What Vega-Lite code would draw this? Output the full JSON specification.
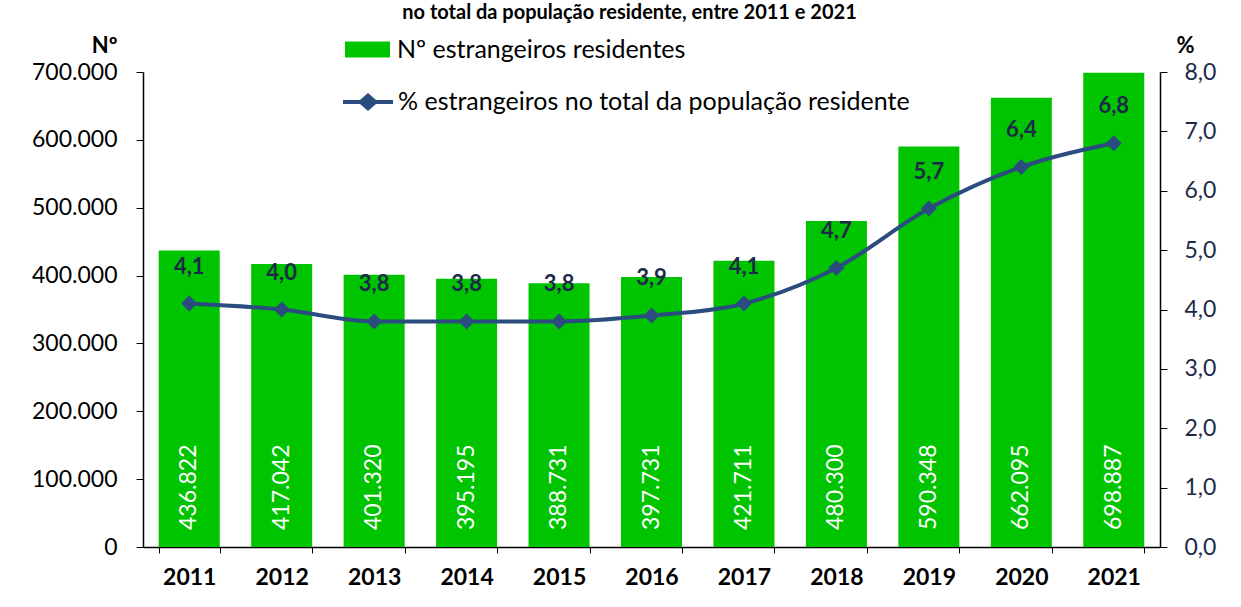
{
  "$schema": "https://vega.github.io/schema/vega-lite/v6.json",
  "width": 1017,
  "height": 475,
  "autosize": "none",
  "padding": {"left": 143, "top": 72, "right": 81, "bottom": 60},
  "background": "white",
  "title": {
    "text": "no total da população residente, entre 2011 e 2021",
    "font": "Lato",
    "fontSize": 20,
    "fontWeight": "bold",
    "color": "black",
    "anchor": "middle",
    "frame": "group",
    "dx": -22,
    "offset": 4
  },
  "config": {
    "font": "Lato",
    "view": {"stroke": null},
    "locale": {"number": {"decimal": ",", "thousands": ".", "grouping": [3], "currency": ["", " €"]}}
  },
  "data": {
    "values": [
      {"ano": "2011", "n": 436822, "pct": 4.1},
      {"ano": "2012", "n": 417042, "pct": 4.0},
      {"ano": "2013", "n": 401320, "pct": 3.8},
      {"ano": "2014", "n": 395195, "pct": 3.8},
      {"ano": "2015", "n": 388731, "pct": 3.8},
      {"ano": "2016", "n": 397731, "pct": 3.9},
      {"ano": "2017", "n": 421711, "pct": 4.1},
      {"ano": "2018", "n": 480300, "pct": 4.7},
      {"ano": "2019", "n": 590348, "pct": 5.7},
      {"ano": "2020", "n": 662095, "pct": 6.4},
      {"ano": "2021", "n": 698887, "pct": 6.8}
    ]
  },
  "encoding": {
    "x": {
      "field": "ano",
      "type": "ordinal",
      "scale": {"paddingInner": 0.34, "paddingOuter": 0.17},
      "axis": {
        "title": null,
        "labelAngle": 0,
        "labelFont": "Lato",
        "labelFontSize": 23,
        "labelFontWeight": "bold",
        "labelColor": "black",
        "labelPadding": 13,
        "tickBand": "extent",
        "tickSize": 6,
        "tickColor": "black",
        "domainColor": "black",
        "domainWidth": 1.5
      }
    }
  },
  "layer": [
    {
      "layer": [
        {
          "mark": {"type": "bar", "fill": "#00c400"},
          "encoding": {
            "y": {
              "field": "n",
              "type": "quantitative",
              "scale": {"domain": [0, 700000], "nice": false},
              "axis": {
                "orient": "left",
                "title": "Nº",
                "titleAngle": 0,
                "titleAlign": "right",
                "titleBaseline": "middle",
                "titleX": -26,
                "titleY": -27,
                "titleFont": "Lato",
                "titleFontSize": 22,
                "titleFontWeight": "bold",
                "titleColor": "black",
                "values": [0, 100000, 200000, 300000, 400000, 500000, 600000, 700000],
                "format": ",d",
                "labelFont": "Lato",
                "labelFontSize": 23,
                "labelColor": "black",
                "labelPadding": 19,
                "tickSize": 7,
                "tickColor": "black",
                "domainColor": "black",
                "domainWidth": 1.5,
                "grid": false
              }
            },
            "fill": {
              "datum": "Nº estrangeiros residentes",
              "scale": {"range": ["#00c400"]},
              "legend": {
                "title": null,
                "orient": "none",
                "legendX": 202,
                "legendY": -45,
                "padding": 0,
                "labelLimit": 0,
                "symbolType": "M-1,-0.356 L1,-0.356 L1,0.356 L-1,0.356 Z",
                "symbolSize": 2025,
                "symbolStrokeWidth": 0,
                "labelFont": "Lato",
                "labelFontSize": 25,
                "labelColor": "black",
                "labelOffset": 7
              }
            }
          }
        },
        {
          "mark": {"type": "text", "angle": 270, "align": "left", "baseline": "middle", "dx": 17, "color": "white", "font": "Lato", "fontSize": 23},
          "encoding": {
            "y": {"datum": 0, "type": "quantitative"},
            "text": {"field": "n", "type": "quantitative", "format": ",d"}
          }
        }
      ]
    },
    {
      "layer": [
        {
          "mark": {"type": "line", "interpolate": "monotone", "strokeWidth": 4, "color": "#2b4c7e"},
          "encoding": {
            "y": {
              "field": "pct",
              "type": "quantitative",
              "scale": {"domain": [0, 8], "nice": false},
              "axis": {
                "orient": "right",
                "title": "%",
                "titleAngle": 0,
                "titleAlign": "center",
                "titleBaseline": "middle",
                "titleX": 25,
                "titleY": -27,
                "titleFont": "Lato",
                "titleFontSize": 22,
                "titleFontWeight": "bold",
                "titleColor": "black",
                "values": [0, 1, 2, 3, 4, 5, 6, 7, 8],
                "format": ".1f",
                "labelFont": "Lato",
                "labelFontSize": 23,
                "labelColor": "#1c2a48",
                "labelPadding": 17,
                "tickSize": 7,
                "tickColor": "black",
                "domainColor": "black",
                "domainWidth": 1.5,
                "grid": false
              }
            },
            "stroke": {
              "datum": "% estrangeiros no total da população residente",
              "scale": {"range": ["#2b4c7e"]},
              "legend": {
                "title": null,
                "orient": "none",
                "legendX": 200,
                "legendY": 5,
                "padding": 0,
                "labelLimit": 0,
                "symbolType": "M-1,-0.08 L-0.32,-0.08 L0,-0.36 L0.32,-0.08 L1,-0.08 L1,0.08 L0.32,0.08 L0,0.36 L-0.32,0.08 L-1,0.08 Z",
                "symbolSize": 2500,
                "symbolFillColor": "#2b4c7e",
                "symbolStrokeWidth": 0,
                "labelFont": "Lato",
                "labelFontSize": 25,
                "labelColor": "black",
                "labelOffset": 5,
                "encode": {"symbols": {"update": {"fill": {"value": "#2b4c7e"}, "strokeWidth": {"value": 0}}}}
              }
            }
          }
        },
        {
          "mark": {"type": "point", "shape": "diamond", "size": 256, "filled": true, "color": "#2b4c7e", "opacity": 1},
          "encoding": {
            "y": {"field": "pct", "type": "quantitative"}
          }
        },
        {
          "mark": {"type": "text", "dy": -37, "baseline": "middle", "align": "center", "font": "Lato", "fontSize": 22, "fontWeight": "bold", "color": "#1c2a48"},
          "encoding": {
            "y": {"field": "pct", "type": "quantitative"},
            "text": {"field": "pct", "type": "quantitative", "format": ".1f"}
          }
        }
      ]
    }
  ],
  "resolve": {"scale": {"y": "independent", "fill": "independent", "stroke": "independent"}}
}
